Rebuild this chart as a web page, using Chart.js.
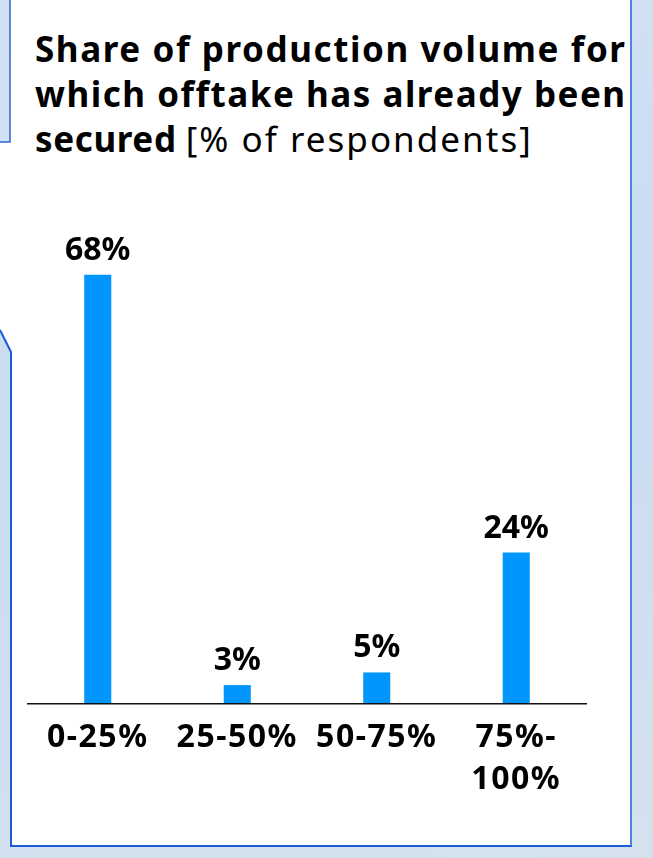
<!DOCTYPE html>
<html>
<head>
<meta charset="utf-8">
<script src="https://cdn.jsdelivr.net/npm/chart.js@4.4.1/dist/chart.umd.min.js"></script>
<style>
  html, body { margin: 0; padding: 0; }
  body {
    width: 653px; height: 858px; position: relative; overflow: hidden;
    background: linear-gradient(170deg, #d2e2f4 0%, #c9dcf2 45%, #d5e2ee 100%);
    font-family: 'Noto Sans', sans-serif;
  }
  #frame { position: absolute; left: 0; top: 0; }
  #title {
    position: absolute; left: 35px; top: 26px;
    font-size: 35px; line-height: 45px; color: #000; white-space: nowrap;
  }
  #title .line { display: block; }
  #title b { font-weight: 700; }
  #title .plain { font-weight: 400; }
  #chart { position: absolute; left: 0; top: 0; }
</style>
</head>
<body>
<svg id="frame" width="653" height="858">
  <polygon points="10,0 631,0 631,846 11,846 11,352 0,330 0,142 10,142" fill="#fff"/>
  <polyline points="10,0 10,142 0,142" fill="none" stroke="#2b67d9" stroke-width="1.5"/>
  <polyline points="0,330 11,352 11,846 632,846" fill="none" stroke="#1a5bd8" stroke-width="2"/>
  <line x1="631" y1="0" x2="631" y2="846" stroke="#4d84dd" stroke-width="2"/>
</svg>

<div id="title">
  <span class="line"><b data-w="590">Share of production volume for</b></span>
  <span class="line"><b data-w="590">which offtake has already been</b></span>
  <span class="line"><b data-w="141">secured</b> <span class="plain" data-w="345">[% of respondents]</span></span>
</div>

<canvas id="chart" width="653" height="858"></canvas>

<script>
const categories = ['0-25%', '25-50%', '50-75%', ['75%-', '100%']];
const shares = [68, 3, 5, 24];
const barColor = '#0096fe';

// stretch each title run to its set width with letter spacing
const meas = document.createElement('canvas').getContext('2d');
document.querySelectorAll('#title [data-w]').forEach(el => {
  const cs = getComputedStyle(el);
  meas.font = `${cs.fontWeight} ${cs.fontSize} ${cs.fontFamily}`;
  const text = el.textContent;
  const w = meas.measureText(text).width;
  el.style.letterSpacing = ((+el.dataset.w - w) / (text.length - 1)) + 'px';
});

const tickSpacing = {
  id: 'tickSpacing',
  beforeDraw(chart) { chart.ctx.letterSpacing = '1.5px'; },
  afterDraw(chart) { chart.ctx.letterSpacing = '0px'; }
};

const valueLabels = {
  id: 'valueLabels',
  afterDatasetsDraw(chart) {
    const ctx = chart.ctx;
    const meta = chart.getDatasetMeta(0);
    ctx.save();
    ctx.letterSpacing = '0px';
    ctx.font = 'bold 32px "Noto Sans"';
    ctx.fillStyle = '#000';
    ctx.textAlign = 'center';
    ctx.textBaseline = 'alphabetic';
    meta.data.forEach((bar, i) => {
      ctx.fillText(shares[i] + '%', bar.x, bar.y - 15);
    });
    ctx.restore();
  }
};

new Chart(document.getElementById('chart'), {
  type: 'bar',
  data: {
    labels: categories,
    datasets: [{
      data: shares,
      backgroundColor: barColor,
      barPercentage: 0.194,
      categoryPercentage: 1
    }]
  },
  options: {
    responsive: false,
    animation: false,
    layout: {
      padding: { left: 28, right: 67, top: 199, bottom: 0 }
    },
    plugins: {
      legend: { display: false },
      tooltip: { enabled: false }
    },
    scales: {
      x: {
        grid: { display: false, drawTicks: false },
        border: { display: true, color: '#111', width: 1.5, z: 1 },
        ticks: {
          color: '#000',
          font: { family: '"Noto Sans"', size: 32, weight: 'bold', lineHeight: 1.3 },
          padding: 13,
          maxRotation: 0,
          autoSkip: false
        },
        afterFit(scale) { scale.height = 154; }
      },
      y: { display: false, min: 0, max: 80 }
    }
  },
  plugins: [tickSpacing, valueLabels]
});
</script>
</body>
</html>
